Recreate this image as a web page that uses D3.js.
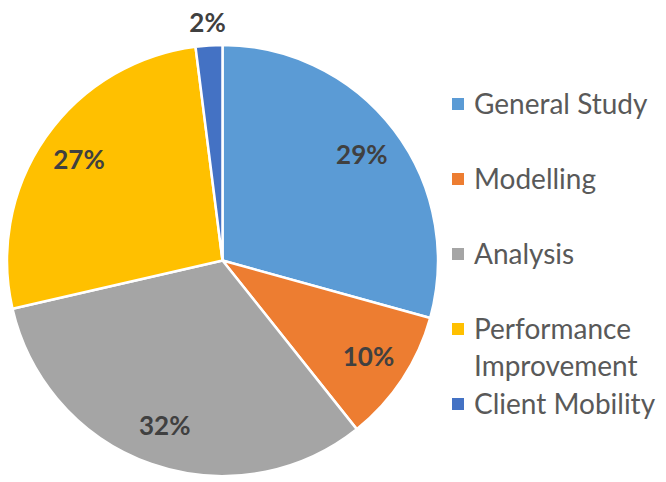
<!DOCTYPE html>
<html lang="en">
<head>
    <meta charset="UTF-8">
    <title>Study Topics</title>
    <script src="https://d3js.org/d3.v7.min.js"></script>
    <style>
        body {
            margin: 0;
            background: #fff;
            font-family: Lato, "Liberation Sans", sans-serif;
        }
        .pct {
            font-size: 26px;
            font-weight: bold;
            fill: #404040;
        }
        .legend-text {
            font-size: 28px;
            fill: #595959;
        }
    </style>
</head>
<body>
    <div id="chart"></div>

    <script>
        // categories and shares
        const categories = ["General Study", "Modelling", "Analysis", "Performance Improvement", "Client Mobility"];
        const legendLines = [["General Study"], ["Modelling"], ["Analysis"], ["Performance", "Improvement"], ["Client Mobility"]];
        const shares = [29.3, 10.0, 32.1, 26.6, 2.0];
        const colors = ["#5B9BD5", "#ED7D31", "#A5A5A5", "#FFC000", "#4472C4"];

        const width = 666, height = 482;
        const cx = 222.5, cy = 260.5, radius = 215.5;

        const svg = d3.select("#chart").append("svg")
            .attr("width", width)
            .attr("height", height);

        const data = categories.map((c, i) => ({ name: c, value: shares[i], color: colors[i] }));
        const total = d3.sum(shares);

        const pie = d3.pie()
            .value(d => d.value)
            .sort(null);

        const arc = d3.arc()
            .innerRadius(0)
            .outerRadius(radius);

        const arcs = pie(data);

        const g = svg.append("g")
            .attr("transform", `translate(${cx},${cy})`);

        g.selectAll("path")
            .data(arcs)
            .enter().append("path")
            .attr("d", arc)
            .attr("fill", d => d.data.color)
            .attr("stroke", "#fff")
            .attr("stroke-width", 2.5)
            .attr("stroke-linejoin", "round");

        // labels inside, small slice outside
        const labelArc = d3.arc().innerRadius(175).outerRadius(175);
        const outerArc = d3.arc().innerRadius(238).outerRadius(238);

        g.selectAll(".pct")
            .data(arcs)
            .enter().append("text")
            .attr("class", "pct")
            .attr("transform", d => {
                const p = (d.data.value / total < 0.05 ? outerArc : labelArc).centroid(d);
                return `translate(${p[0]},${p[1]})`;
            })
            .attr("text-anchor", "middle")
            .attr("dy", "0.35em")
            .text(d => Math.round(d.data.value / total * 100) + "%");

        // legend
        const legend = svg.append("g")
            .attr("transform", "translate(452,0)");

        const rowY = [104, 179, 254, 329, 404];

        const items = legend.selectAll(".item")
            .data(data)
            .enter().append("g")
            .attr("class", "item")
            .attr("transform", (d, i) => `translate(0,${rowY[i]})`);

        items.append("rect")
            .attr("x", 0)
            .attr("y", -6)
            .attr("width", 12)
            .attr("height", 12)
            .attr("fill", d => d.color);

        items.append("text")
            .attr("class", "legend-text")
            .attr("x", 22)
            .selectAll("tspan")
            .data((d, i) => legendLines[i])
            .enter().append("tspan")
            .attr("x", 22)
            .attr("dy", (t, j) => j === 0 ? "0.35em" : "37px")
            .text(t => t);
    </script>
</body>
</html>
